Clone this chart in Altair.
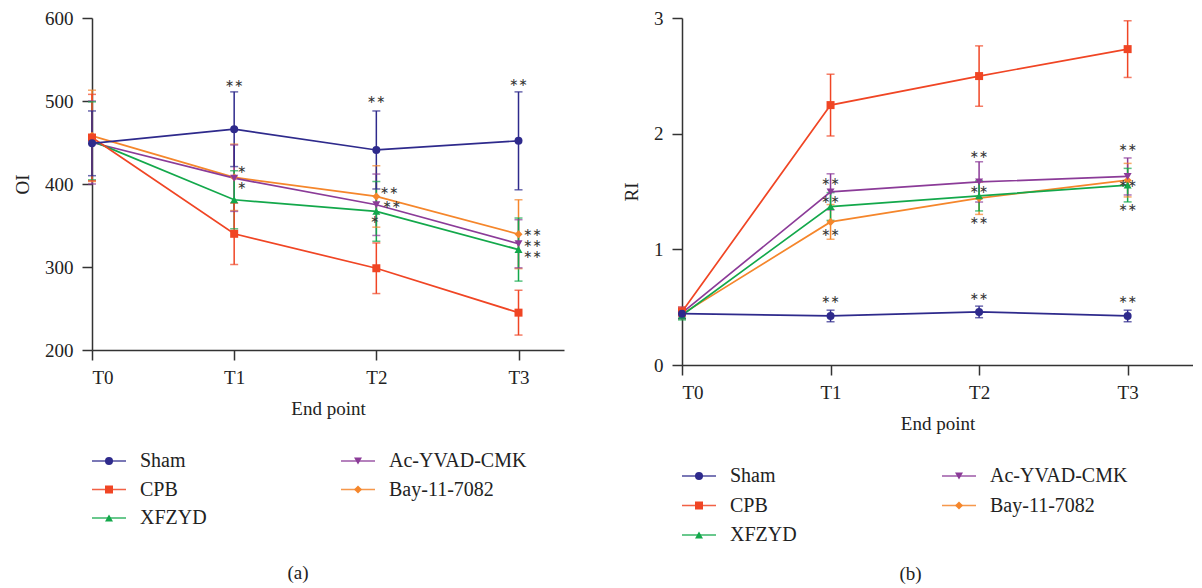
import altair as alt
import pandas as pd

FONT = "Liberation Serif"

groups = ["Sham", "CPB", "XFZYD", "Ac-YVAD-CMK", "Bay-11-7082"]
colors = ["#2e2a8c", "#f04524", "#13a84b", "#8b3b98", "#f5862b"]
shapes = ["circle", "square", "triangle-up", "triangle-down", "diamond"]
time_labels = ["T0", "T1", "T2", "T3"]
time_index = [0, 1, 2, 3]

# ---- panel (a): OI ----
oi_sham = [449, 466, 441, 452]
oi_sham_sd = [39, 45, 47, 59]
oi_cpb = [456, 340, 298.5, 245]
oi_cpb_sd = [52, 37, 30.5, 27]
oi_xfzyd = [452, 381, 367, 321]
oi_xfzyd_sd = [47, 35, 36, 38]
oi_ac = [450, 407, 375, 328]
oi_ac_sd = [50, 40, 37, 29]
oi_bay = [458, 408, 385, 339.5]
oi_bay_sd = [55, 40, 37, 41.5]

oi_star_t = [1, 1.054, 1.054, 2, 2.09, 2.109, 1.99, 3, 3.098, 3.098, 3.098]
oi_star_v = [521, 417, 398, 501, 392, 375, 357, 522, 341.5, 328, 314]
oi_star_txt = ["∗∗", "∗", "∗", "∗∗", "∗∗", "∗∗", "∗", "∗∗", "∗∗", "∗∗", "∗∗"]

# ---- panel (b): RI ----
ri_sham = [0.444, 0.424, 0.459, 0.424]
ri_sham_sd = [0.04, 0.05, 0.05, 0.05]
ri_cpb = [0.46, 2.247, 2.498, 2.731]
ri_cpb_sd = [0.04, 0.267, 0.261, 0.245]
ri_xfzyd = [0.43, 1.37, 1.462, 1.555]
ri_xfzyd_sd = [0.04, 0.12, 0.13, 0.145]
ri_ac = [0.45, 1.497, 1.583, 1.63]
ri_ac_sd = [0.05, 0.156, 0.174, 0.16]
ri_bay = [0.44, 1.237, 1.442, 1.598]
ri_bay_sd = [0.04, 0.15, 0.14, 0.145]

ri_star_t = [1, 1, 1, 1, 2, 2, 2, 2, 3, 3, 3, 3]
ri_star_v = [1.583, 1.425, 1.137, 0.562, 1.817, 1.511, 1.249, 0.588, 1.877, 1.569, 1.356, 0.56]
ri_star_txt = ["∗∗"] * 12

legend_col = [0, 1, 0, 1, 0]
legend_row = [0, 0, 1, 1, 2]
legend_order = ["Sham", "Ac-YVAD-CMK", "CPB", "Bay-11-7082", "XFZYD"]

draw_order = ["Bay-11-7082", "Ac-YVAD-CMK", "XFZYD", "CPB", "Sham"]

color_scale = alt.Scale(domain=groups, range=colors)
shape_scale = alt.Scale(domain=groups, range=shapes)


def make_df(series):
    rows = []
    for g in draw_order:
        means, sds = series[g]
        for t, m, s in zip(time_index, means, sds):
            rows.append({"group": g, "t": t, "value": m, "lower": m - s, "upper": m + s,
                         "ord": draw_order.index(g)})
    return pd.DataFrame(rows)


def panel(series, ydom, yticks, ytitle, xmax, width, height, star_t, star_v, star_txt,
          leg_xrange, leg_yrange, caption, cap_dx, cap_offset):
    df = make_df(series)
    stars = pd.DataFrame({"t": star_t, "v": star_v, "txt": star_txt})
    legend_df = pd.DataFrame({"group": legend_order, "col": legend_col, "row": legend_row})

    label_expr = "[" + ",".join(f"'{s}'" for s in time_labels) + "][datum.value]"
    xaxis = alt.Axis(values=time_index, labelExpr=label_expr, title="End point",
                     titlePadding=12, labelPadding=8)
    yaxis = alt.Axis(values=yticks, title=ytitle, titlePadding=12, labelPadding=9)
    xs = alt.Scale(domain=[0, xmax], nice=False, zero=False)
    ys = alt.Scale(domain=ydom, nice=False, zero=False)

    def X(f):
        return alt.X(f"{f}:Q", scale=xs, axis=xaxis)

    def Y(f):
        return alt.Y(f"{f}:Q", scale=ys, axis=yaxis)

    col = alt.Color("group:N", scale=color_scale, legend=None)
    base = alt.Chart(df)

    rules = base.mark_rule(strokeWidth=1.5).encode(x=X("t"), y=Y("lower"), y2="upper", color=col)
    cap_hi = base.mark_tick(orient="horizontal", size=8, thickness=1.5).encode(
        x=X("t"), y=Y("upper"), color=col)
    cap_lo = base.mark_tick(orient="horizontal", size=8, thickness=1.5).encode(
        x=X("t"), y=Y("lower"), color=col)
    lines = base.mark_line(strokeWidth=1.7).encode(
        x=X("t"), y=Y("value"), color=col, detail="group:N", order="t:Q")
    pts = base.mark_point(filled=True, size=64, opacity=1).encode(
        x=X("t"), y=Y("value"), color=col,
        shape=alt.Shape("group:N", scale=shape_scale, legend=None))
    star_layer = alt.Chart(stars).mark_text(
        font="DejaVu Sans", fontSize=11, color="#333", baseline="middle", align="center"
    ).encode(x=X("t"), y=Y("v"), text="txt:N")

    data_layer = alt.layer(rules, cap_hi, cap_lo, lines, pts, star_layer)

    lx = alt.X("col:Q", scale=alt.Scale(domain=[0, 1], range=leg_xrange), axis=None)
    ly = alt.Y("row:Q", scale=alt.Scale(domain=[0, 2], range=leg_yrange), axis=None)
    lbase = alt.Chart(legend_df)
    lrule = lbase.mark_rule(strokeWidth=1.7, xOffset=-17, x2Offset=17, opacity=0.85).encode(
        x=lx, x2="col:Q", y=ly, color=col)
    lpt = lbase.mark_point(filled=True, size=64, opacity=1).encode(
        x=lx, y=ly, color=col, shape=alt.Shape("group:N", scale=shape_scale, legend=None))
    ltxt = lbase.mark_text(align="left", baseline="middle", dx=31, font=FONT, fontSize=20,
                           color="#222").encode(x=lx, y=ly, text="group:N")
    legend_layer = alt.layer(lrule, lpt, ltxt)

    return alt.layer(data_layer, legend_layer).resolve_scale(
        x="independent", y="independent"
    ).properties(
        width=width, height=height,
        title=alt.TitleParams(caption, orient="bottom", anchor="middle", dx=cap_dx,
                              offset=cap_offset, font=FONT, fontSize=19,
                              fontWeight="normal", color="#222"),
    )


oi_series = {
    "Sham": (oi_sham, oi_sham_sd), "CPB": (oi_cpb, oi_cpb_sd),
    "XFZYD": (oi_xfzyd, oi_xfzyd_sd), "Ac-YVAD-CMK": (oi_ac, oi_ac_sd),
    "Bay-11-7082": (oi_bay, oi_bay_sd),
}
ri_series = {
    "Sham": (ri_sham, ri_sham_sd), "CPB": (ri_cpb, ri_cpb_sd),
    "XFZYD": (ri_xfzyd, ri_xfzyd_sd), "Ac-YVAD-CMK": (ri_ac, ri_ac_sd),
    "Bay-11-7082": (ri_bay, ri_bay_sd),
}

left = panel(oi_series, [200, 600], [200, 300, 400, 500, 600], "OI", 3.32, 472, 332,
             oi_star_t, oi_star_v, oi_star_txt, [17, 266], [443, 500], "(a)", -30, 36)
right = panel(ri_series, [0, 3], [0, 1, 2, 3], "RI", 3.44, 511, 347,
              ri_star_t, ri_star_v, ri_star_txt, [17, 277], [458, 517], "(b)", -27, 20)

chart = alt.hconcat(left, right, spacing=58).properties(
    padding={"left": 5, "top": 1, "right": 0, "bottom": 0}
).configure_view(stroke=None).configure_axis(
    grid=False, domainColor="#333", tickColor="#333", domainWidth=1.5, tickWidth=1.5,
    tickSize=10, labelFont=FONT, titleFont=FONT, labelFontSize=19, titleFontSize=19,
    labelColor="#222", titleColor="#222", titleFontWeight="normal",
).configure_axisY(titleAngle=270)

chart.save("out.html", embed_options={"renderer": "svg", "actions": False})
